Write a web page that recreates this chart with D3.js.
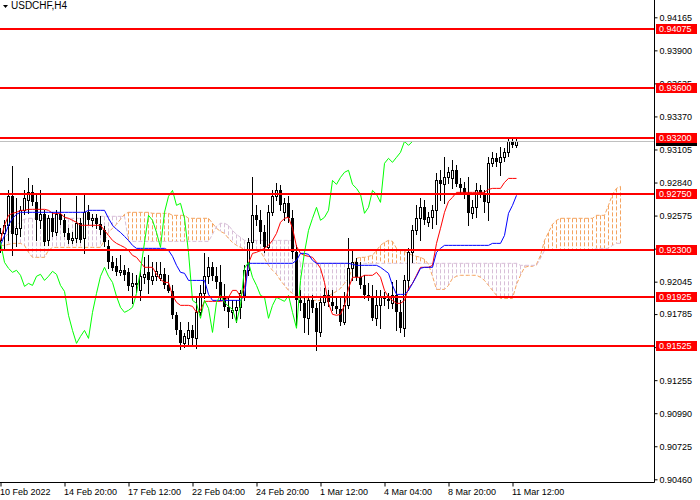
<!DOCTYPE html>
<html>
<head>
<meta charset="utf-8">
<script src="https://cdn.jsdelivr.net/npm/d3@7"></script>
<style>
    body { margin: 0; background: #ffffff; }
    svg { display: block; font-family: "Liberation Sans", Arial, sans-serif; }
</style>
</head>
<body>
<script>

// ---- Data ----
const symbol = "USDCHF,H4";

const opens = [
    .92376,.92432,.92497,.92729,.92424,.92473,.92617,.92697,.92761,.92681,
    .92537,.92585,.92376,.92553,.92440,.92585,.92537,.92432,.92376,.92392,
    .92513,.92392,.92601,.92537,.92553,.92505,.92456,.92328,.92200,.92168,
    .92120,.92136,.92120,.92007,.92031,.91975,.92080,.92120,.92055,.92088,
    .92072,.92104,.92015,.91967,.91775,.91654,.91550,.91590,.91654,.91590,
    .91799,.91951,.92088,.92160,.92088,.92039,.91927,.91839,.91799,.91815,
    .91839,.91935,.92136,.92360,.92577,.92537,.92440,.92320,.92601,.92729,
    .92777,.92601,.92673,.92553,.92280,.91895,.91871,.91751,.91895,.91831,
    .91638,.91879,.91935,.91879,.91847,.91823,.91719,.91855,.92152,.92200,
    .92080,.92015,.91935,.91919,.91751,.91855,.91919,.91903,.91871,.91935,
    .91799,.91671,.92055,.92280,.92456,.92553,.92641,.92521,.92561,.92617,
    .92857,.92825,.92881,.92873,.92938,.92825,.92793,.92745,.92593,.92641,
    .92777,.92745,.92681,.92994,.93034,.93002,.93042,.93082,.93170,.93138
];

const highs = [
    .92473,.92537,.92777,.92970,.92713,.92649,.92777,.92873,.92817,.92737,
    .92777,.92617,.92577,.92601,.92617,.92713,.92585,.92473,.92440,.92729,
    .92553,.92737,.92657,.92585,.92585,.92569,.92489,.92376,.92248,.92232,
    .92256,.92176,.92152,.92112,.92096,.92136,.92240,.92256,.92200,.92200,
    .92200,.92152,.92096,.92015,.91799,.91719,.91630,.91719,.91695,.91911,
    .92015,.92272,.92240,.92200,.92160,.92176,.92023,.91919,.91895,.91895,
    .91975,.92176,.92392,.92881,.92657,.92617,.92497,.92657,.92777,.92833,
    .92817,.92713,.92729,.92617,.92336,.91975,.91911,.91927,.91935,.91871,
    .91927,.91991,.91975,.91975,.91927,.91927,.91959,.92392,.92296,.92232,
    .92200,.92096,.92031,.92015,.91975,.91975,.91959,.91951,.92039,.92055,
    .91895,.92096,.92312,.92497,.92657,.92713,.92697,.92601,.92657,.92914,
    .92938,.93042,.92962,.93018,.92978,.92873,.92841,.92881,.92697,.92833,
    .92817,.92777,.93042,.93082,.93074,.93122,.93114,.93186,.93186,.93194
];

const lows = [
    .92280,.92312,.92376,.92256,.92328,.92408,.92585,.92593,.92657,.92376,
    .92473,.92336,.92336,.92408,.92416,.92505,.92408,.92352,.92352,.92360,
    .92360,.92272,.92505,.92489,.92473,.92424,.92328,.92152,.92136,.92096,
    .92096,.92055,.91975,.91871,.91959,.91895,.92031,.91951,.92023,.92055,
    .92055,.91991,.91959,.91751,.91622,.91502,.91518,.91534,.91526,.91510,
    .91775,.91911,.92031,.92055,.91991,.91895,.91815,.91679,.91751,.91719,
    .91751,.91895,.92096,.92296,.92497,.92352,.92280,.92296,.92577,.92697,
    .92617,.92537,.92521,.92232,.91695,.91815,.91638,.91622,.91799,.91494,
    .91606,.91855,.91847,.91815,.91791,.91695,.91703,.91831,.92055,.92055,
    .91991,.91911,.91895,.91735,.91695,.91671,.91855,.91831,.91831,.91654,
    .91638,.91606,.91975,.92200,.92424,.92376,.92505,.92489,.92473,.92505,
    .92697,.92673,.92833,.92793,.92809,.92761,.92713,.92497,.92553,.92561,
    .92721,.92601,.92537,.92970,.92970,.92898,.93010,.93050,.93122,.93122
];

const closes = [
    .92432,.92497,.92729,.92424,.92473,.92617,.92713,.92761,.92681,.92537,
    .92585,.92360,.92553,.92440,.92585,.92537,.92432,.92376,.92392,.92513,
    .92376,.92601,.92537,.92553,.92505,.92456,.92360,.92200,.92152,.92120,
    .92136,.92096,.92007,.92031,.92015,.92088,.92104,.92055,.92088,.92128,
    .92104,.92015,.91967,.91775,.91654,.91550,.91606,.91654,.91590,.91799,
    .91951,.92088,.92160,.92088,.92039,.91927,.91839,.91799,.91815,.91839,
    .91951,.92136,.92360,.92577,.92537,.92440,.92320,.92601,.92729,.92777,
    .92657,.92673,.92553,.92280,.91895,.91871,.91751,.91895,.91831,.91638,
    .91879,.91935,.91879,.91847,.91823,.91719,.91855,.92152,.92200,.92080,
    .92015,.91935,.91919,.91751,.91855,.91919,.91903,.91887,.91935,.91799,
    .91671,.92055,.92280,.92456,.92553,.92641,.92537,.92561,.92617,.92857,
    .92825,.92881,.92922,.92938,.92825,.92793,.92745,.92593,.92641,.92777,
    .92745,.92681,.92994,.93034,.93002,.93042,.93082,.93170,.93138,.93170
];

// Ichimoku lines (red tenkan, blue kijun)
const tenkan = [
    .92376,.92497,.92577,.92593,.92601,.92617,.92617,.92625,.92625,.92625,
    .92625,.92625,.92617,.92593,.92593,.92593,.92561,.92553,.92537,.92521,
    .92497,.92497,.92497,.92497,.92497,.92497,.92456,.92416,.92376,.92352,
    .92336,.92320,.92296,.92256,.92240,.92200,.92160,.92160,.92160,.92104,
    .92063,.92039,.92039,.91935,.91879,.91855,.91855,.91855,.91847,.91799,
    .91815,.91887,.91887,.91887,.91887,.91887,.91895,.91919,.91975,.91975,
    .91927,.91999,.92192,.92272,.92280,.92296,.92312,.92336,.92376,.92432,
    .92521,.92553,.92561,.92473,.92328,.92272,.92256,.92248,.92240,.92200,
    .92152,.92039,.91871,.91783,.91775,.91783,.91855,.91991,.92080,.92080,
    .92080,.92096,.92096,.92096,.92120,.92080,.91975,.91919,.91895,.91871,
    .91871,.91895,.91991,.92031,.92096,.92160,.92160,.92160,.92176,.92352,
    .92473,.92601,.92689,.92721,.92761,.92761,.92761,.92761,.92761,.92761,
    .92761,.92761,.92785,.92793,.92793,.92793,.92841,.92873,.92873,.92873
];

const kijun = [
    .92336,.92416,.92497,.92553,.92585,.92601,.92601,.92601,.92601,.92601,
    .92601,.92601,.92601,.92601,.92601,.92601,.92601,.92601,.92601,.92601,
    .92601,.92601,.92617,.92617,.92617,.92617,.92617,.92553,.92497,.92465,
    .92440,.92408,.92376,.92336,.92312,.92312,.92312,.92312,.92312,.92312,
    .92312,.92312,.92296,.92248,.92176,.92120,.92112,.92055,.92055,.92055,
    .92055,.92055,.91943,.91895,.91895,.91895,.91895,.91895,.91895,.91895,
    .91895,.91935,.92192,.92192,.92192,.92192,.92192,.92192,.92192,.92192,
    .92192,.92192,.92192,.92192,.92216,.92272,.92272,.92264,.92216,.92192,
    .92192,.92192,.92192,.92192,.92192,.92192,.92192,.92192,.92184,.92176,
    .92176,.92176,.92176,.92176,.92176,.92160,.92136,.92112,.92015,.91943,
    .91943,.91943,.91975,.92031,.92088,.92152,.92160,.92160,.92160,.92280,
    .92312,.92336,.92336,.92336,.92336,.92336,.92336,.92336,.92336,.92336,
    .92336,.92336,.92336,.92352,.92352,.92352,.92416,.92593,.92657,.92737
];

// Cloud spans, already 26 bars ahead (156 values)
const spanA = [
    .92336,.92336,.92344,.92352,.92352,.92352,.92336,.92280,.92240,.92240,
    .92240,.92240,.92296,.92320,.92320,.92320,.92320,.92320,.92320,.92320,
    .92320,.92320,.92320,.92320,.92320,.92320,.92376,.92440,.92473,.92505,
    .92545,.92585,.92601,.92601,.92601,.92601,.92601,.92601,.92593,.92593,
    .92593,.92593,.92593,.92577,.92577,.92577,.92577,.92553,.92553,.92553,
    .92553,.92553,.92553,.92513,.92473,.92448,.92432,.92392,.92360,.92336,
    .92320,.92304,.92296,.92296,.92296,.92288,.92232,.92176,.92136,.92104,
    .92055,.92015,.91975,.91951,.91927,.91919,.91911,.91903,.91895,.91895,
    .91895,.91903,.91927,.91951,.91967,.91991,.92031,.92072,.92152,.92232,
    .92240,.92240,.92248,.92256,.92296,.92336,.92360,.92376,.92368,.92312,
    .92296,.92288,.92272,.92256,.92248,.92240,.92224,.92184,.92088,.91983,
    .91983,.91983,.92015,.92072,.92088,.92096,.92096,.92096,.92096,.92096,
    .92080,.92055,.92015,.91975,.91935,.91911,.91911,.91911,.91911,.92023,
    .92096,.92160,.92168,.92168,.92184,.92256,.92376,.92440,.92505,.92537,
    .92553,.92553,.92553,.92553,.92553,.92553,.92553,.92553,.92553,.92577,
    .92577,.92577,.92657,.92745,.92793,.92809
];

const spanB = [
    .92376,.92400,.92432,.92465,.92497,.92529,.92545,.92553,.92553,.92553,
    .92553,.92553,.92553,.92553,.92553,.92553,.92553,.92553,.92553,.92553,
    .92553,.92553,.92553,.92553,.92553,.92569,.92569,.92569,.92569,.92569,
    .92569,.92569,.92368,.92368,.92368,.92368,.92368,.92368,.92368,.92368,
    .92368,.92368,.92368,.92368,.92368,.92368,.92368,.92368,.92368,.92368,
    .92368,.92368,.92368,.92424,.92489,.92513,.92513,.92497,.92456,.92424,
    .92400,.92376,.92376,.92376,.92376,.92376,.92376,.92376,.92376,.92376,
    .92376,.92376,.92376,.92376,.92280,.92192,.92192,.92192,.92192,.92192,
    .92192,.92192,.92192,.92192,.92192,.92192,.92192,.92192,.92192,.92192,
    .92192,.92192,.92192,.92192,.92192,.92192,.92192,.92192,.92192,.92192,
    .92192,.92192,.92192,.92192,.92192,.92192,.92192,.92192,.92192,.92192,
    .92192,.92192,.92192,.92192,.92192,.92192,.92192,.92192,.92192,.92192,
    .92192,.92192,.92192,.92192,.92192,.92192,.92192,.92192,.92192,.92192,
    .92176,.92176,.92176,.92176,.92176,.92232,.92296,.92296,.92296,.92296,
    .92296,.92296,.92296,.92296,.92296,.92296,.92296,.92296,.92296,.92312,
    .92312,.92312,.92312,.92336,.92352,.92352
];

const chikouShift = 26;

// Horizontal support / resistance levels
const levels = [0.94075, 0.93600, 0.93200, 0.92750, 0.92300, 0.91925, 0.91525];

// Price scale tick labels
const priceTicks = [
    0.94165, 0.93900, 0.93635, 0.93370, 0.93105, 0.92840, 0.92575, 0.92310,
    0.92045, 0.91785, 0.91520, 0.91255, 0.90990, 0.90725, 0.90460
];

// Time scale ticks (bar index) and their labels
const timeTickBars = [0, 16, 32, 48, 64, 80, 96, 112, 128];
const timeTickLabels = [
    "10 Feb 2022", "14 Feb 20:00", "17 Feb 12:00", "22 Feb 04:00", "24 Feb 20:00",
    "1 Mar 12:00", "4 Mar 04:00", "8 Mar 20:00", "11 Mar 12:00"
];


// ---- Layout ----
const fig = { width: 700, height: 500, right: 654.5, bottom: 482.5 };

const x = d3.scaleLinear().domain([0, 1]).range([0.5, 4.5]);          // 4 px per bar
const y = d3.scaleLinear().domain([0.90460, 0.94165]).range([479.3, 17.3]);

const snap = v => Math.round(v) + 0.5;

const svg = d3.select("body")
    .append("svg")
    .attr("width", fig.width)
    .attr("height", fig.height);

svg.append("rect")
    .attr("width", fig.width)
    .attr("height", fig.height)
    .attr("fill", "#ffffff");

svg.append("clipPath")
    .attr("id", "plot-clip")
    .append("rect")
    .attr("width", fig.right)
    .attr("height", fig.bottom);

const plot = svg.append("g").attr("clip-path", "url(#plot-clip)");

// ---- Kumo (hatched cloud) ----
const cloud = spanA.map((a, i) => ({ i: i, a: a, b: spanB[i] }));

plot.append("g")
    .selectAll("line")
    .data(cloud)
    .join("line")
    .attr("x1", d => x(d.i))
    .attr("x2", d => x(d.i))
    .attr("y1", d => y(Math.max(d.a, d.b)))
    .attr("y2", d => y(Math.min(d.a, d.b)))
    .attr("stroke", d => d.a >= d.b ? "#F4A460" : "#D8BFD8")
    .attr("stroke-width", 1)
    .attr("stroke-dasharray", "4,2");

const spanLine = d3.line()
    .x((d, i) => x(i))
    .y(d => y(d));

plot.append("path")
    .attr("d", spanLine(spanA))
    .attr("fill", "none")
    .attr("stroke", "#F4A460")
    .attr("stroke-dasharray", "4,2");

plot.append("path")
    .attr("d", spanLine(spanB))
    .attr("fill", "none")
    .attr("stroke", "#D8BFD8")
    .attr("stroke-dasharray", "4,2");

// ---- Candles ----
const bars = opens.map((o, i) => ({ i: i, o: o, h: highs[i], l: lows[i], c: closes[i] }));

const candles = plot.append("g").selectAll("g").data(bars).join("g");

candles.append("line")
    .attr("x1", d => x(d.i))
    .attr("x2", d => x(d.i))
    .attr("y1", d => Math.round(y(d.h)))
    .attr("y2", d => Math.round(y(d.l)) + 1)
    .attr("stroke", "#000000");

// bearish: solid black body
candles.filter(d => d.c < d.o)
    .append("rect")
    .attr("x", d => x(d.i) - 1.5)
    .attr("width", 3)
    .attr("y", d => Math.round(y(d.o)))
    .attr("height", d => Math.max(1, Math.round(y(d.c)) - Math.round(y(d.o))))
    .attr("fill", "#000000");

// bullish: white body with black outline
candles.filter(d => d.c >= d.o)
    .append("rect")
    .attr("x", d => x(d.i) - 1)
    .attr("width", 2)
    .attr("y", d => snap(y(d.c)))
    .attr("height", d => Math.max(0, snap(y(d.o)) - snap(y(d.c))))
    .attr("fill", "#ffffff")
    .attr("stroke", "#000000");

// ---- Ichimoku lines ----
const idxLine = d3.line()
    .x((d, i) => x(i))
    .y(d => y(d));

plot.append("path")
    .attr("d", idxLine(tenkan))
    .attr("fill", "none")
    .attr("stroke", "#FF0000");

plot.append("path")
    .attr("d", idxLine(kijun))
    .attr("fill", "none")
    .attr("stroke", "#0000FF");

// chikou: closes drawn 26 bars back
const chikou = d3.line()
    .x(d => x(d.i - chikouShift))
    .y(d => y(d.c));

plot.append("path")
    .attr("d", chikou(bars.filter(d => d.i >= chikouShift)))
    .attr("fill", "none")
    .attr("stroke", "#00FF00");

// ---- Bid line ----
const bid = closes[closes.length - 1];

plot.append("line")
    .attr("x1", 0)
    .attr("x2", fig.right)
    .attr("y1", snap(y(bid)))
    .attr("y2", snap(y(bid)))
    .attr("stroke", "#C0C0C0");

// ---- Horizontal levels ----
plot.append("g")
    .selectAll("line")
    .data(levels)
    .join("line")
    .attr("x1", 0)
    .attr("x2", fig.right)
    .attr("y1", d => Math.round(y(d)))
    .attr("y2", d => Math.round(y(d)))
    .attr("stroke", "#FF0000")
    .attr("stroke-width", 2);

// ---- Axes ----
svg.append("line")
    .attr("x1", fig.right).attr("x2", fig.right)
    .attr("y1", 0).attr("y2", fig.bottom)
    .attr("stroke", "#000000");

svg.append("line")
    .attr("x1", 0).attr("x2", fig.right)
    .attr("y1", fig.bottom).attr("y2", fig.bottom)
    .attr("stroke", "#000000");

const yAxis = svg.append("g")
    .attr("transform", "translate(" + fig.right + ",0)")
    .call(d3.axisRight(y)
        .tickValues(priceTicks)
        .tickFormat(d3.format(".5f"))
        .tickSize(3)
        .tickPadding(2));

yAxis.select(".domain").remove();
yAxis.attr("font-family", null).attr("font-size", 9);
yAxis.selectAll("text").attr("fill", "#000000");

const xAxis = svg.append("g")
    .attr("transform", "translate(0," + fig.bottom + ")")
    .call(d3.axisBottom(x)
        .tickValues(timeTickBars)
        .tickFormat((d, i) => timeTickLabels[i])
        .tickSize(4)
        .tickPadding(2));

xAxis.select(".domain").remove();
xAxis.attr("font-family", null).attr("font-size", 9);
xAxis.selectAll("text")
    .attr("text-anchor", "start")
    .attr("x", -1)
    .attr("fill", "#000000");

// bid price box (mostly hidden under the level label)
svg.append("rect")
    .attr("x", 656)
    .attr("y", Math.round(y(bid)) - 5)
    .attr("width", 41)
    .attr("height", 10)
    .attr("fill", "#000000");

// level price boxes
const levelLabels = svg.append("g")
    .selectAll("g")
    .data(levels)
    .join("g")
    .attr("transform", d => "translate(656," + Math.round(y(d)) + ")");

levelLabels.append("rect")
    .attr("y", -5)
    .attr("width", 41)
    .attr("height", 10)
    .attr("fill", "#FF0000");

levelLabels.append("text")
    .attr("x", 3)
    .attr("y", 0)
    .attr("dy", "0.35em")
    .attr("font-size", 9)
    .attr("fill", "#ffffff")
    .text(d => d3.format(".5f")(d));

// ---- Title ----
svg.append("path")
    .attr("d", "M3,5L8,5L5.5,8Z")
    .attr("fill", "#000000");

svg.append("text")
    .attr("x", 11)
    .attr("y", 9)
    .attr("font-size", 10)
    .attr("fill", "#000000")
    .text(symbol);

</script>
</body>
</html>
